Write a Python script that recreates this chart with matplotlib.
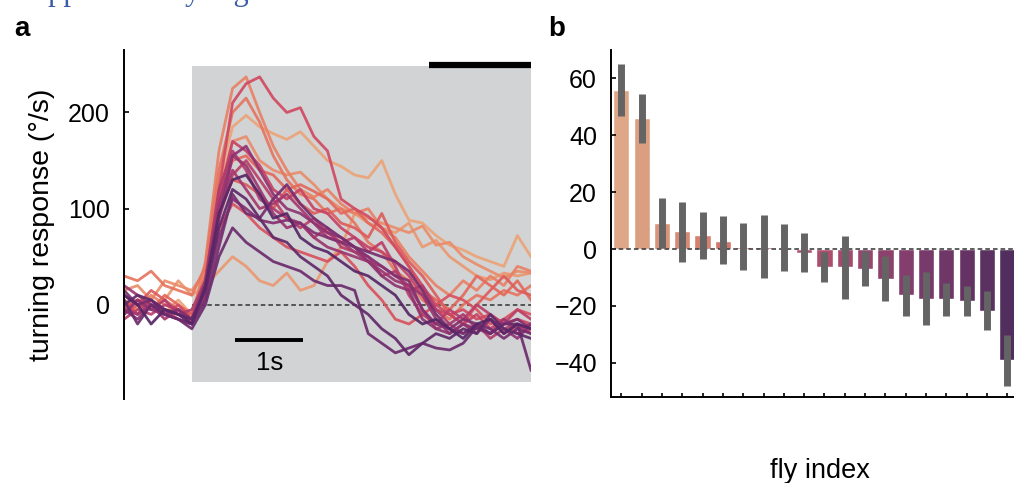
"""Fly turning responses: single-fly traces (a) and per-fly mean response with error (b)."""

import numpy as np
import matplotlib
matplotlib.use("Agg")
import matplotlib.pyplot as plt
import seaborn as sns

plt.rcParams["font.family"] = ["Liberation Sans", "DejaVu Sans"]

# 时间轴 (s)，刺激在 0 s 开始
time_s = np.round(np.arange(-1.0, 5.01, 0.2), 1)

# 每只果蝇的转向响应 (°/s)，按颜色由浅到深排列
traces = [
    [-5, 5, 0, -8, 5, -10, 40, 130, 185, 197, 185, 178, 172, 180, 165, 150, 144, 135, 132, 150, 115, 88, 85, 72, 62, 57, 50, 45, 40, 72, 50],
    [10, 0, -5, 5, 25, 10, 20, 35, 50, 40, 25, 20, 33, 15, 20, 45, 60, 95, 85, 80, 75, 85, 60, 67, 50, 40, 30, 26, 33, 30, 33],
    [15, 20, 5, 25, 20, 15, 35, 120, 170, 175, 150, 140, 135, 138, 125, 110, 100, 95, 90, 85, 80, 75, 82, 62, 65, 50, 42, 35, 28, 35, 33],
    [5, -5, 10, 0, -5, -15, 45, 160, 225, 237, 200, 165, 140, 120, 112, 120, 105, 95, 100, 80, 70, 50, 35, 20, 10, 25, 15, 30, 20, 40, 35],
    [30, 25, 35, 20, 15, 10, 40, 140, 200, 215, 190, 155, 130, 115, 110, 95, 100, 85, 65, 55, 35, 25, 5, -5, -15, 0, 10, 5, 15, 10, 20],
    [0, 5, -5, 10, 0, -10, 30, 110, 150, 155, 140, 135, 120, 125, 118, 110, 95, 100, 85, 75, 60, 40, 15, 5, -5, 10, 30, 20, 10, 25, 5],
    [-10, 0, 15, 5, -5, -10, 25, 95, 130, 125, 115, 100, 120, 105, 95, 100, 85, 80, 70, 95, 65, 45, 30, 10, -10, -20, 0, 15, 30, 15, 10],
    [5, -10, 0, -5, -15, -20, 20, 80, 105, 95, 80, 70, 60, 55, 50, 45, 55, 40, 20, 5, -15, -20, -10, 0, 10, 5, -5, -20, -15, -5, -10],
    [-5, 5, 0, -10, 0, -15, 25, 120, 210, 230, 237, 215, 200, 205, 175, 160, 110, 100, 92, 80, 60, 40, 20, 0, -10, -5, -15, -10, -20, -15, -20],
    [0, -10, 5, -5, -10, -15, 20, 110, 170, 160, 145, 120, 110, 120, 100, 95, 80, 70, 60, 55, 45, 30, 10, -5, -10, -20, -10, -25, -15, -30, -25],
    [-15, -5, -10, 0, -5, -20, 15, 90, 135, 150, 130, 110, 90, 80, 90, 75, 65, 70, 55, 65, 40, 10, -10, -20, -5, -15, 0, -10, -20, -5, -15],
    [10, 0, -5, 5, -10, -5, 25, 120, 160, 140, 110, 100, 90, 85, 70, 80, 60, 55, 50, 30, 35, 15, 20, -5, -20, -30, -20, -35, -25, -20, -30],
    [-5, -10, 0, -15, -5, -20, 20, 100, 140, 120, 100, 105, 115, 100, 85, 70, 65, 55, 45, 40, 30, 20, -5, -25, -20, -10, -25, -15, -30, -20, -25],
    [20, 10, 0, -5, -10, -15, 25, 105, 155, 145, 120, 95, 80, 85, 70, 60, 55, 50, 45, 35, 25, 20, 10, -15, -30, -20, -25, -30, -15, -25, -20],
    [-10, 5, -5, -10, -15, -20, 10, 90, 155, 165, 140, 115, 100, 95, 85, 75, 70, 60, 45, 30, 20, 15, -15, -25, -30, -20, -30, -15, -25, -35, -20],
    [-5, -15, 0, -10, -5, -15, 15, 70, 110, 100, 88, 85, 88, 85, 75, 70, 65, 60, 50, 40, 30, 25, -5, -20, -25, -15, -20, -30, -20, -15, -25],
    [15, 0, 5, -10, -15, -20, 5, 60, 115, 95, 90, 110, 125, 105, 90, 80, 70, 60, 55, 50, 45, 35, 15, -10, -25, -30, -20, -25, -35, -25, -30],
    [5, -20, 0, -10, -15, -25, 0, 50, 80, 65, 55, 45, 40, 35, 25, 20, 20, 15, -30, -40, -50, -45, -40, -45, -47, -40, -23, -30, -20, -20, -68],
    [0, 10, 5, -5, -10, -15, 15, 80, 120, 110, 90, 70, 65, 50, 40, 30, 10, 0, -10, -25, -35, -52, -40, -30, -35, -25, -30, -10, -25, -30, -35],
    [10, 0, -20, -5, -10, -20, 20, 95, 130, 135, 115, 90, 95, 70, 60, 55, 45, 35, 30, 20, 10, -10, -20, -15, -25, -35, -20, -15, -30, -20, -25],
]

# 每只果蝇的平均响应及误差范围，按均值降序
fly_mean = [56, 46, 9.2, 6.2, 4.8, 3.0, 0.9, 0.9, 0.5, -1.2,
            -6.3, -6.3, -6.9, -10.5, -16.3, -17.4, -17.7, -18.2, -21.8, -39.1]
err_hi = [65.0, 54.5, 17.9, 16.7, 13.0, 11.5, 9.2, 12.0, 8.8, 5.6,
          -1.1, 4.6, -0.7, -2.6, -9.2, -8.1, -11.9, -13.1, -14.9, -30.3]
err_lo = [46.9, 37.3, 0.5, -4.4, -3.4, -5.4, -7.4, -10.2, -7.8, -8.2,
          -11.6, -17.5, -13.1, -18.2, -23.4, -26.8, -23.4, -23.4, -28.5, -48.0]

STIM_ON, STIM_OFF = 0.0, 5.0
BAR_ON = 3.5

W, H = 1014, 483


def plot_traces(ax, colors):
    ax.add_patch(plt.Rectangle((STIM_ON, -80), STIM_OFF - STIM_ON, 328,
                               facecolor="#d1d3d4", edgecolor="none", zorder=0))
    ax.plot([STIM_ON, STIM_OFF], [0, 0], color="#333333", lw=1.1,
            ls=(0, (3, 2)), zorder=1)
    for tr, c in zip(traces, colors):
        ax.plot(time_s, tr, color=c, lw=2.0, alpha=0.92, zorder=2)

    # 顶部黑条 + 1s 比例尺
    ax.plot([BAR_ON, STIM_OFF], [249, 249], color="black", lw=4.5,
            solid_capstyle="butt", clip_on=False, zorder=4)
    ax.plot([0.64, 1.64], [-37, -37], color="black", lw=2.8,
            solid_capstyle="butt", zorder=4)
    ax.text(1.14, -61, "1s", ha="center", va="center", fontsize=18.5)

    ax.set_xlim(-1.0, 5.0)
    ax.set_ylim(-98, 265)
    ax.set_yticks([0, 100, 200])
    ax.set_xticks([])
    for s in ("top", "right", "bottom"):
        ax.spines[s].set_visible(False)
    ax.spines["left"].set_linewidth(1.4)
    ax.tick_params(axis="y", direction="in", length=3.5, width=1.2,
                   labelsize=18, pad=10)
    ax.set_ylabel("turning response (°/s)", fontsize=20.5)
    ax.yaxis.set_label_coords(-0.17, 0.5)


def plot_bars(ax, colors):
    x = np.arange(len(fly_mean))
    bar_colors = [sns.desaturate(c, 0.75) for c in colors]
    ax.bar(x, fly_mean, width=0.8, color=bar_colors, edgecolor="white",
           linewidth=1.0, zorder=1)
    ax.axhline(0, color="#333333", lw=1.1, ls=(0, (3, 2)), zorder=2)
    ax.vlines(x, err_lo, err_hi, color="#646464", lw=5, zorder=3)

    ax.set_xlim(-0.51, 19.33)
    ax.set_ylim(-52, 70)
    ax.set_xticks(x)
    ax.set_xticklabels([])
    ax.set_yticks([-40, -20, 0, 20, 40, 60])
    ax.set_yticklabels(["\u221240", "\u221220", "0", "20", "40", "60"])
    for s in ("top", "right"):
        ax.spines[s].set_visible(False)
    for s in ("left", "bottom"):
        ax.spines[s].set_linewidth(1.4)
    ax.tick_params(axis="y", direction="in", length=3.8, width=1.2,
                   labelsize=18, pad=10)
    ax.tick_params(axis="x", direction="in", length=2.6, width=1.2)
    ax.set_xlabel("fly index", fontsize=19.5)
    ax.xaxis.set_label_coords(0.519, -0.175)


def main():
    colors = sns.color_palette("flare", len(traces))

    fig = plt.figure(figsize=(W / 100, H / 100), dpi=100)
    ax_a = fig.add_axes([124 / W, 1 - 399 / H, (531 - 124) / W, (399 - 50) / H])
    ax_b = fig.add_axes([611 / W, 1 - 397 / H, (W - 611) / W, (397 - 50) / H])

    plot_traces(ax_a, colors)
    plot_bars(ax_b, colors)

    # 页面残留的标题（只剩下伸部）
    fig.text(16 / W, 1.0, "Supplementary Figure", color="#3a5da8",
             fontsize=22, family=["Liberation Serif", "DejaVu Serif"], va="baseline")
    fig.text(14 / W, 1 - 36 / H, "a", fontsize=20, fontweight="bold", va="baseline")
    fig.text(548 / W, 1 - 36 / H, "b", fontsize=20, fontweight="bold", va="baseline")

    fig.savefig("out.png", dpi=100)
    plt.close(fig)


if __name__ == "__main__":
    main()
